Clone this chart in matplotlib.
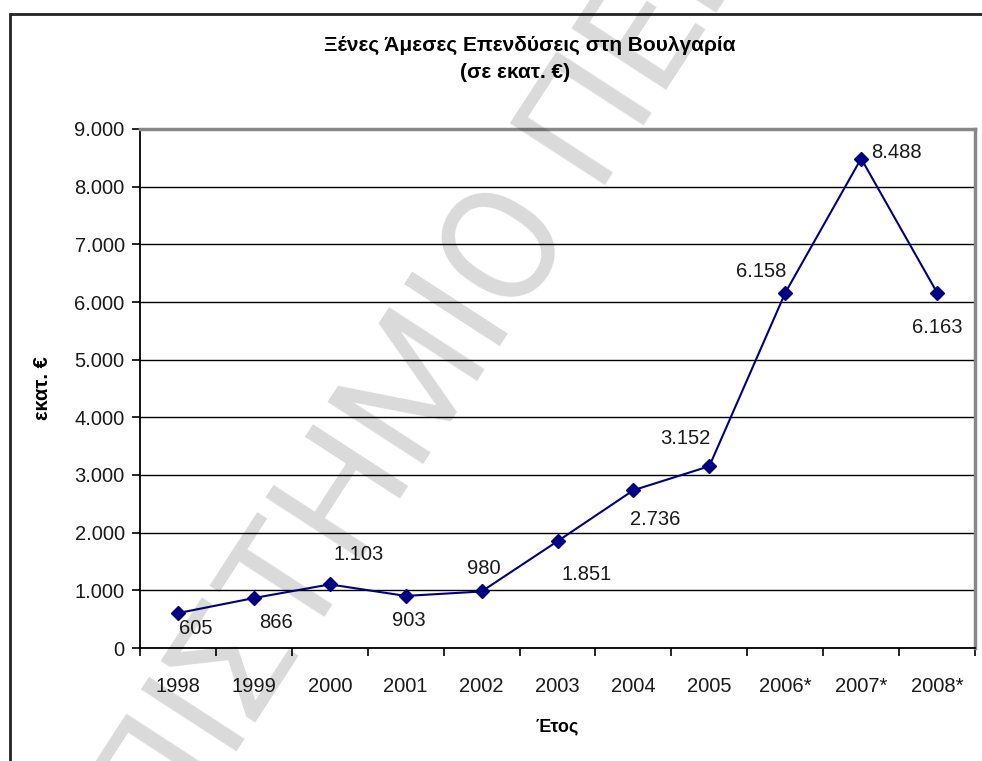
import numpy as np
import matplotlib.pyplot as plt
from matplotlib.patches import Rectangle

plt.rcParams['font.family'] = ['Liberation Sans', 'DejaVu Sans']

years = ['1998', '1999', '2000', '2001', '2002', '2003', '2004', '2005',
         '2006*', '2007*', '2008*']
fdi = [605, 866, 1103, 903, 980, 1851, 2736, 3152, 6158, 8488, 6163]
fdi_labels = ['605', '866', '1.103', '903', '980', '1.851', '2.736', '3.152',
              '6.158', '8.488', '6.163']
y_ticks = [0, 1000, 2000, 3000, 4000, 5000, 6000, 7000, 8000, 9000]
y_tick_labels = ['0', '1.000', '2.000', '3.000', '4.000', '5.000', '6.000',
                 '7.000', '8.000', '9.000']

# label offsets in pixels (dx, dy), dy positive = down
label_offsets = [(18, 15), (22, 24), (29, -30), (3, 25), (2, -23), (29, 33),
                 (22, 29), (-24, -28), (-24, -21), (35, -6), (0, 35)]

W, H = 982, 761
fig = plt.figure(figsize=(W / 100, H / 100), dpi=100)
ax = fig.add_axes([140 / W, 1 - 648 / H, (975 - 140) / W, (648 - 129) / H])

x = np.arange(len(years))
ax.plot(x, fdi, color='#000080', lw=1.5, marker='D', ms=7, zorder=4)

for xi, v, lab, (dx, dy) in zip(x, fdi, fdi_labels, label_offsets):
    ax.annotate(lab, (xi, v), xytext=(dx, -dy), textcoords='offset pixels',
                ha='center', va='center', fontsize=14.5, color='#1a1a1a', zorder=5)

ax.set_xlim(-0.5, len(years) - 0.5)
ax.set_ylim(0, 9000)
ax.set_yticks(y_ticks)
ax.set_yticklabels(y_tick_labels, fontsize=14.5, color='#1a1a1a')
ax.set_xticks(x)
ax.set_xticklabels(years, fontsize=14.5, color='#1a1a1a')
ax.set_xticks(np.arange(len(years) + 1) - 0.5, minor=True)
ax.tick_params(axis='x', which='major', length=0, pad=21)
ax.tick_params(axis='x', which='minor', length=6, width=1.2, direction='out')
ax.tick_params(axis='y', length=6, width=1.2, direction='out', pad=5)
ax.grid(axis='y', color='black', lw=1)
ax.set_axisbelow(True)

for side in ['top', 'right']:
    ax.spines[side].set_color('#888888')
    ax.spines[side].set_linewidth(2.5)
for side in ['left', 'bottom']:
    ax.spines[side].set_color('black')
    ax.spines[side].set_linewidth(1.3)

ax.set_ylabel('εκατ. €', fontsize=14.5, fontweight='bold', labelpad=16)
ax.set_xlabel('Έτος', fontsize=13, fontweight='bold', labelpad=16)

fig.text(530 / W, 1 - 45 / H, 'Ξένες Άμεσες Επενδύσεις στη Βουλγαρία',
         ha='center', va='center', fontsize=15, fontweight='bold')
fig.text(515 / W, 1 - 73 / H, '(σε εκατ. €)',
         ha='center', va='center', fontsize=15, fontweight='bold')

# outer border of the chart object
fig.patches.append(Rectangle((10 / W, -0.2), 1.2, 1 - 14 / H + 0.2,
                             transform=fig.transFigure, fill=False,
                             edgecolor='#222222', lw=2))

# watermark
fig.text(420 / W, 1 - 390 / H, 'ΠΑΝΕΠΙΣΤΗΜΙΟ ΠΕΙΡΑΙΩΣ', rotation=57,
         rotation_mode='anchor', ha='center', va='center', fontsize=115,
         family=['Roboto', 'DejaVu Sans'], fontweight='normal',
         color='black', alpha=0.15, zorder=10)

fig.savefig('out.png', dpi=100)
